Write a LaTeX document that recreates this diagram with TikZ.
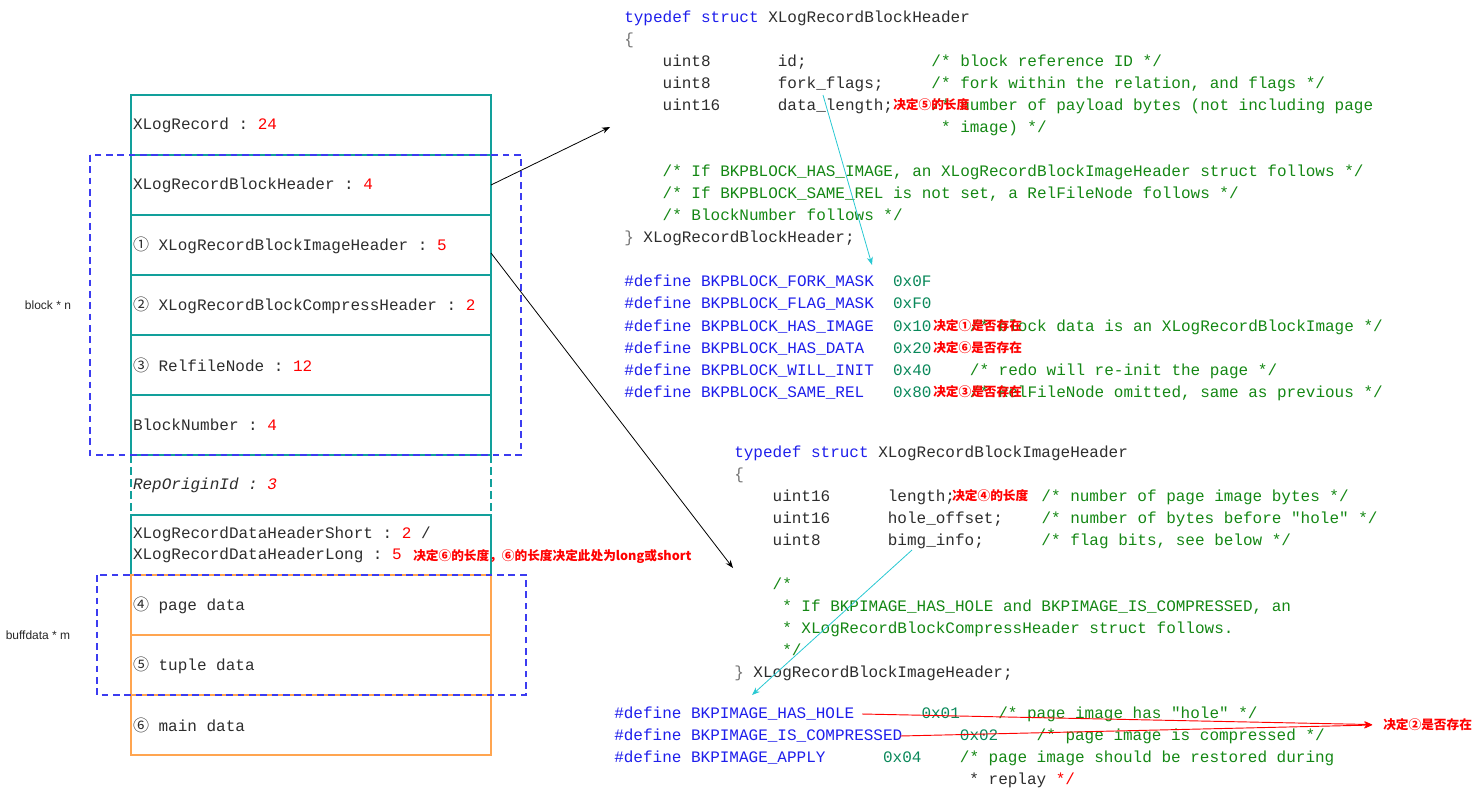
\documentclass[tikz,border=0pt]{standalone}
\usepackage{fontspec}
\setsansfont{Liberation Sans}
\newfontfamily\codefont{Liberation Mono}
\newfontfamily\cjkfont{Noto Sans CJK SC}
\usetikzlibrary{positioning, arrows.meta, calc}

\definecolor{tealc}{RGB}{18,160,155}
\definecolor{orangec}{RGB}{255,165,80}
\definecolor{grpblue}{RGB}{60,60,240}
\definecolor{kwblue}{RGB}{30,30,235}
\definecolor{cmgreen}{RGB}{20,135,20}
\definecolor{numgreen}{RGB}{9,136,90}
\definecolor{cyanc}{RGB}{40,200,210}
\definecolor{idgray}{RGB}{45,45,45}

\newlength\cw
\setlength\cw{7.2pt}
\newcommand\spc[1]{\hspace*{#1\cw}}
\newcommand\csp{\spc{1}}
\newcommand\codesize{\fontsize{12pt}{15.75pt}\selectfont}
\newcommand\kwd[1]{\textcolor{kwblue}{#1}}
\newcommand\cmt[1]{\textcolor{cmgreen}{#1}}
\newcommand\hexn[1]{\textcolor{numgreen}{#1}}
\newcommand\rdn[1]{\textcolor{red}{#1}}
\newcommand\cnum[1]{{\cjkfont #1}}
\frenchspacing

\begin{document}
\begin{tikzpicture}[x=0.75pt, y=-0.75pt,
  rowbox/.style={draw=tealc, line width=1.5pt, minimum width=270pt, minimum height=45pt,
                 text width=267pt, align=left, inner xsep=1.5pt, inner ysep=0pt,
                 outer sep=0pt, font=\codefont\codesize, text=idgray},
  databox/.style={rowbox, draw=orangec},
  gapbox/.style={rowbox, draw=none},
  grpbox/.style={draw=grpblue, line width=1.5pt, dash pattern=on 5pt off 3.5pt},
  sidelbl/.style={font=\sffamily\fontsize{9}{11}\selectfont, text=black!85},
  codeline/.style={anchor=base west, inner sep=0pt, yshift=-4pt,
                   font=\codefont\codesize, text=idgray},
  note/.style={anchor=base west, inner sep=0pt, yshift=-3.5pt,
               font=\cjkfont\bfseries\fontsize{9.5pt}{11pt}\selectfont, text=red},
  ptr/.style={-{Stealth[length=6pt, width=4.5pt]}, line width=0.6pt, black},
  hint/.style={-{Stealth[length=6pt, width=4.5pt]}, line width=0.6pt, cyanc},
  flag/.style={-{Stealth[length=6pt, width=5pt]}, line width=0.7pt, red, shorten >=8pt},
]
\useasboundingbox (0,0) rectangle (1482,796);

% record layout (left column)
\node[rowbox] (rec) at (311,125) {XLogRecord\csp:\csp\rdn{24}};
\node[rowbox, below=0pt of rec] (hdr) {XLogRecordBlockHeader\csp:\csp\rdn{4}};
\node[rowbox, below=0pt of hdr] (img) {\cnum{①}\csp XLogRecordBlockImageHeader\csp:\csp\rdn{5}};
\node[rowbox, below=0pt of img] (cmp) {\cnum{②}\csp XLogRecordBlockCompressHeader\csp:\csp\rdn{2}};
\node[rowbox, below=0pt of cmp] (rel) {\cnum{③}\csp RelfileNode\csp:\csp\rdn{12}};
\node[rowbox, below=0pt of rel] (bnum) {BlockNumber\csp:\csp\rdn{4}};
\node[gapbox, below=0pt of bnum] (orig) {\itshape RepOriginId\csp:\csp\rdn{3}};
\node[rowbox, below=0pt of orig] (dhdr)
  {XLogRecordDataHeaderShort\csp:\csp\rdn{2}\csp/\\XLogRecordDataHeaderLong\csp:\csp\rdn{5}};
\node[databox, below=0pt of dhdr] (page) {\cnum{④}\csp page\csp data};
\node[databox, below=0pt of page] (tuple) {\cnum{⑤}\csp tuple\csp data};
\node[databox, below=0pt of tuple] (main) {\cnum{⑥}\csp main\csp data};
\draw[tealc, line width=1.5pt, dash pattern=on 6pt off 3pt]
  (orig.north west) -- (orig.south west) (orig.north east) -- (orig.south east);

% repeated groups
\draw[grpbox] ($(hdr.north west)+(-41,0)$) rectangle ($(bnum.south east)+(30,0)$);
\draw[grpbox] ($(page.north west)+(-34,0)$) rectangle ($(tuple.south east)+(35,0)$);
\node[sidelbl] (blkn) at (48,305) {block * n};
\node[sidelbl] (bufm) at (38,635) {buffdata * m};
\node[note] (dlen) at (413,556) {决定⑥的长度，⑥的长度决定此处为long或short};

% XLogRecordBlockHeader
\node[codeline] (ba) at (624,17) {\kwd{typedef struct} XLogRecordBlockHeader};
\node[codeline] (bb) at (624,39) {\textcolor{black!55}{\{}};
\node[codeline] (bc) at (624,61) {\spc{4}uint8\spc{7}id;\spc{13}\cmt{/* block reference ID */}};
\node[codeline] (bd) at (624,83) {\spc{4}uint8\spc{7}fork\_flags;\spc{5}\cmt{/* fork within the relation, and flags */}};
\node[codeline] (be) at (624,105) {\spc{4}uint16\spc{6}data\_length;\spc{4}\cmt{/* number of payload bytes (not including page}};
\node[codeline] (bf) at (624,127) {\spc{33}\cmt{* image) */}};
\node[codeline] (bg) at (624,171) {\spc{4}\cmt{/* If BKPBLOCK\_HAS\_IMAGE, an XLogRecordBlockImageHeader struct follows */}};
\node[codeline] (bh) at (624,193) {\spc{4}\cmt{/* If BKPBLOCK\_SAME\_REL is not set, a RelFileNode follows */}};
\node[codeline] (bi) at (624,215) {\spc{4}\cmt{/* BlockNumber follows */}};
\node[codeline] (bj) at (624,237) {\textcolor{black!55}{\}} XLogRecordBlockHeader;};
\node[codeline] (fa) at (624,281) {\kwd{\#define BKPBLOCK\_FORK\_MASK}\spc{2}\hexn{0x0F}};
\node[codeline] (fb) at (624,303) {\kwd{\#define BKPBLOCK\_FLAG\_MASK}\spc{2}\hexn{0xF0}};
\node[codeline] (fc) at (624,326) {\kwd{\#define BKPBLOCK\_HAS\_IMAGE}\spc{2}\hexn{0x10}\spc{4}\cmt{/* block data is an XLogRecordBlockImage */}};
\node[codeline] (fd) at (624,348) {\kwd{\#define BKPBLOCK\_HAS\_DATA}\spc{3}\hexn{0x20}};
\node[codeline] (fe) at (624,370) {\kwd{\#define BKPBLOCK\_WILL\_INIT}\spc{2}\hexn{0x40}\spc{4}\cmt{/* redo will re-init the page */}};
\node[codeline] (ff) at (624,392) {\kwd{\#define BKPBLOCK\_SAME\_REL}\spc{3}\hexn{0x80}\spc{4}\cmt{/* RelFileNode omitted, same as previous */}};
\node[note] (n5) at (893,105) {决定⑤的长度};
\node[note] (n1) at (933,326) {决定①是否存在};
\node[note] (n6) at (933,348) {决定⑥是否存在};
\node[note] (n3) at (933,392) {决定③是否存在};

% XLogRecordBlockImageHeader
\node[codeline] (ia) at (734,452) {\kwd{typedef struct} XLogRecordBlockImageHeader};
\node[codeline] (ib) at (734,474) {\textcolor{black!55}{\{}};
\node[codeline] (ic) at (734,496) {\spc{4}uint16\spc{6}length;\spc{9}\cmt{/* number of page image bytes */}};
\node[codeline] (id) at (734,518) {\spc{4}uint16\spc{6}hole\_offset;\spc{4}\cmt{/* number of bytes before "hole" */}};
\node[codeline] (ie) at (734,540) {\spc{4}uint8\spc{7}bimg\_info;\spc{6}\cmt{/* flag bits, see below */}};
\node[codeline] (ig) at (734,584) {\spc{4}\cmt{/*}};
\node[codeline] (ih) at (734,606) {\spc{5}\cmt{* If BKPIMAGE\_HAS\_HOLE and BKPIMAGE\_IS\_COMPRESSED, an}};
\node[codeline] (ii) at (734,628) {\spc{5}\cmt{* XLogRecordBlockCompressHeader struct follows.}};
\node[codeline] (ij) at (734,650) {\spc{5}\cmt{*/}};
\node[codeline] (ik) at (734,672) {\textcolor{black!55}{\}} XLogRecordBlockImageHeader;};
\node[note] (n4) at (952,496) {决定④的长度};

% bimg_info flags
\node[codeline] (ga) at (614,713) {\kwd{\#define BKPIMAGE\_HAS\_HOLE}\spc{7}\hexn{0x01}\spc{4}\cmt{/* page image has "hole" */}};
\node[codeline] (gb) at (614,735) {\kwd{\#define BKPIMAGE\_IS\_COMPRESSED}\spc{6}\hexn{0x02}\spc{4}\cmt{/* page image is compressed */}};
\node[codeline] (gc) at (614,757) {\kwd{\#define BKPIMAGE\_APPLY}\spc{6}\hexn{0x04}\spc{4}\cmt{/* page image should be restored during}};
\node[codeline] (gd) at (614,779) {\spc{37}* replay \rdn{*/}};
\node[note] (n2) at (1383,725) {决定②是否存在};

% connectors
\coordinate (hdrcode) at (610,127);
\coordinate (imgcode) at (733,568);
\coordinate (lenfrom) at (823,95);
\coordinate (lento) at (872,265);
\coordinate (infofrom) at (912,550);
\coordinate (infoto) at (752,695);
\coordinate (holeend) at (862,714);
\coordinate (compend) at (900,736);
\draw[ptr] (hdr.east) -- (hdrcode);
\draw[ptr] ([yshift=-6pt]img.east) -- (imgcode);
\draw[hint] (lenfrom) -- (lento);
\draw[hint] (infofrom) -- (infoto);
\draw[flag] (holeend) -- (n2.west);
\draw[flag] (compend) -- (n2.west);
\end{tikzpicture}
\end{document}
